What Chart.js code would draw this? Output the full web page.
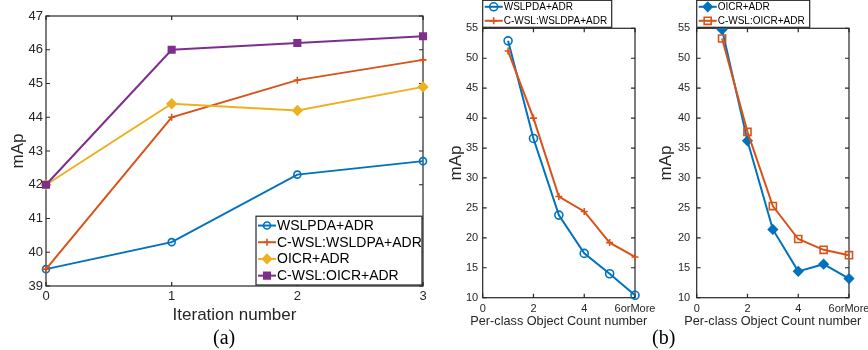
<!DOCTYPE html>
<html>
<head>
<meta charset="utf-8">
<script src="https://cdn.jsdelivr.net/npm/chart.js@4.4.0/dist/chart.umd.min.js"></script>
<style>
html, body { margin: 0; padding: 0; background: #fff; width: 868px; height: 350px; overflow: hidden; position: relative; }
.pane { position: absolute; top: 0; }
.cap { position: absolute; font-family: "Liberation Serif", "Times New Roman", serif; font-size: 20px; color: #000; line-height: 20px; }
</style>
</head>
<body>
<div class="pane" style="left:0;width:440px;height:330px"><canvas id="chart-a"></canvas></div>
<div class="pane" style="left:440px;width:240px;height:335px"><canvas id="chart-b1"></canvas></div>
<div class="pane" style="left:650px;width:235px;height:335px"><canvas id="chart-b2"></canvas></div>
<div class="cap" style="left:213px;top:327px">(a)</div>
<div class="cap" style="left:652px;top:327px">(b)</div>
<script>
// (a) mAp per iteration
const iterLabels = ['0', '1', '2', '3'];
const aWslpdaAdr = [39.5, 40.3, 42.3, 42.7];
const aCwslWslpdaAdr = [39.5, 44.0, 45.1, 45.7];
const aOicrAdr = [42.0, 44.4, 44.2, 44.9];
const aCwslOicrAdr = [42.0, 46.0, 46.2, 46.4];

// (b) mAp per per-class object count
const countX = [1, 2, 3, 4, 5, 6];
const countTicks = [0, 2, 4, 6];
const countTickLabels = ['0', '2', '4', '6orMore'];
const b1WslpdaAdr = [52.9, 36.6, 23.8, 17.4, 14.0, 10.4];
const b1CwslWslpdaAdr = [51.2, 40.0, 26.9, 24.4, 19.2, 16.8];
const b2OicrAdr = [54.8, 36.2, 21.4, 14.4, 15.6, 13.2];
const b2CwslOicrAdr = [53.3, 37.7, 25.3, 19.8, 18.0, 17.1];

const BLUE = '#0072BD', ORANGE = '#D95319', YELLOW = '#EDB120', PURPLE = '#7E2F8E';
const AXIS = '#262626';
const SANS = "'Liberation Sans', Arial, Helvetica, sans-serif";

Chart.defaults.font.family = SANS;
Chart.defaults.color = AXIS;

function series(label, values, color, shape, r, open, xs, order) {
    return {
        label,
        data: xs ? values.map((v, i) => ({ x: xs[i], y: v })) : values,
        borderColor: color,
        backgroundColor: color,
        borderWidth: 2,
        pointStyle: shape,
        pointRadius: r,
        pointHoverRadius: r,
        pointBorderWidth: 1.6,
        pointBorderColor: color,
        pointBackgroundColor: open ? 'rgba(255,255,255,0)' : color,
        tension: 0,
        clip: false,
        order
    };
}

function drawMarker(ctx, shape, x, y, r, stroke, fill) {
    ctx.save();
    ctx.strokeStyle = stroke;
    ctx.fillStyle = fill;
    ctx.lineWidth = 1.6;
    ctx.beginPath();
    if (shape === 'circle') {
        ctx.arc(x, y, r, 0, Math.PI * 2);
    } else if (shape === 'rect') {
        const s = r * Math.SQRT1_2;
        ctx.rect(x - s, y - s, 2 * s, 2 * s);
    } else if (shape === 'rectRot') {
        ctx.moveTo(x, y - r); ctx.lineTo(x + r, y); ctx.lineTo(x, y + r); ctx.lineTo(x - r, y); ctx.closePath();
    } else if (shape === 'cross') {
        ctx.moveTo(x - r, y); ctx.lineTo(x + r, y); ctx.moveTo(x, y - r); ctx.lineTo(x, y + r);
    }
    if (shape !== 'cross') ctx.fill();
    ctx.stroke();
    ctx.restore();
}

// matlab style box with inward ticks on all four sides
const frameBox = {
    id: 'frameBox',
    beforeDatasetsDraw(chart) {
        const { ctx, chartArea: a, scales } = chart;
        const x = scales.x, y = scales.y;
        ctx.save();
        ctx.strokeStyle = AXIS;
        ctx.lineWidth = 1.2;
        ctx.strokeRect(a.left, a.top, a.right - a.left, a.bottom - a.top);
        const len = 4;
        ctx.beginPath();
        x.ticks.forEach((t, i) => {
            const px = x.getPixelForTick(i);
            ctx.moveTo(px, a.bottom); ctx.lineTo(px, a.bottom - len);
            ctx.moveTo(px, a.top); ctx.lineTo(px, a.top + len);
        });
        y.ticks.forEach((t, i) => {
            const py = y.getPixelForTick(i);
            ctx.moveTo(a.left, py); ctx.lineTo(a.left + len, py);
            ctx.moveTo(a.right, py); ctx.lineTo(a.right - len, py);
        });
        ctx.stroke();
        ctx.restore();
    }
};

const boxLegend = {
    id: 'boxLegend',
    afterDraw(chart, args, opts) {
        const { ctx, chartArea: a } = chart;
        const sets = chart.data.datasets;
        const h = sets.length * opts.rowH + 2 * opts.pad;
        const left = opts.corner === 'br' ? a.right - 1 - opts.width : a.left;
        const top = opts.corner === 'br' ? a.bottom - 1 - h : a.top - 1 - h;
        ctx.save();
        ctx.fillStyle = '#fff';
        ctx.fillRect(left, top, opts.width, h);
        ctx.strokeStyle = AXIS;
        ctx.lineWidth = 1.2;
        ctx.strokeRect(left, top, opts.width, h);
        ctx.font = opts.fontSize + 'px ' + SANS;
        ctx.textBaseline = 'middle';
        ctx.textAlign = 'left';
        sets.forEach((ds, i) => {
            const cy = top + opts.pad + opts.rowH * (i + 0.5);
            ctx.strokeStyle = ds.borderColor;
            ctx.lineWidth = 2;
            ctx.beginPath();
            ctx.moveTo(left + 2, cy);
            ctx.lineTo(left + 20, cy);
            ctx.stroke();
            drawMarker(ctx, ds.pointStyle, left + 11, cy, ds.pointRadius, ds.borderColor, ds.pointBackgroundColor);
            ctx.fillStyle = '#000';
            ctx.fillText(ds.label, left + 21, cy + 0.5);
        });
        // wide x title that may run past the plot edges (chart.js would squeeze it)
        if (opts.xTitle) {
            ctx.font = opts.xTitleSize + 'px ' + SANS;
            ctx.fillStyle = AXIS;
            ctx.textAlign = 'center';
            ctx.fillText(opts.xTitle, (a.left + a.right) / 2, a.bottom + opts.xTitleGap);
        }
        ctx.restore();
    }
};

function axisTitle(text, size, padTop, padBottom) {
    return { display: true, text, font: { size }, color: AXIS, padding: { top: padTop, bottom: padBottom } };
}

// (a)
new Chart(document.getElementById('chart-a'), {
    type: 'line',
    data: {
        labels: iterLabels,
        datasets: [
            series('WSLPDA+ADR', aWslpdaAdr, BLUE, 'circle', 3.5, true, null, 4),
            series('C-WSL:WSLDPA+ADR', aCwslWslpdaAdr, ORANGE, 'cross', 3.5, true, null, 3),
            series('OICR+ADR', aOicrAdr, YELLOW, 'rectRot', 4.5, false, null, 2),
            series('C-WSL:OICR+ADR', aCwslOicrAdr, PURPLE, 'rect', 4.6, false, null, 1)
        ]
    },
    options: {
        responsive: true,
        maintainAspectRatio: false,
        animation: false,
        devicePixelRatio: 1,
        layout: { padding: { top: 16, right: 17, left: 0, bottom: 0 } },
        scales: {
            x: {
                type: 'category',
                offset: false,
                grid: { display: false, drawTicks: false },
                border: { display: false },
                ticks: { font: { size: 13 }, padding: 3, color: AXIS, maxRotation: 0 },
                title: axisTitle('Iteration number', 17, 0, 4),
                afterFit: s => { s.height = 44; }
            },
            y: {
                min: 39, max: 47,
                grid: { display: false, drawTicks: false },
                border: { display: false },
                ticks: { stepSize: 1, font: { size: 13 }, padding: 3, color: AXIS },
                title: axisTitle('mAp', 17, 8, 0),
                afterFit: s => { s.width = 46; }
            }
        },
        plugins: {
            legend: { display: false },
            tooltip: { enabled: false },
            boxLegend: { corner: 'br', width: 166, rowH: 16.7, pad: 1, fontSize: 14 }
        }
    },
    plugins: [frameBox, boxLegend]
});

function countChart(id, yWidth, yPad, rightPad, datasets, legendWidth) {
    return new Chart(document.getElementById(id), {
        type: 'line',
        data: { datasets },
        options: {
            responsive: true,
            maintainAspectRatio: false,
            animation: false,
            devicePixelRatio: 1,
            layout: { padding: { top: 28.3, right: rightPad, left: 0, bottom: 0 } },
            scales: {
                x: {
                    type: 'linear',
                    min: 0, max: 6,
                    grid: { display: false, drawTicks: false },
                    border: { display: false },
                    afterBuildTicks: s => { s.ticks = countTicks.map(v => ({ value: v })); },
                    ticks: {
                        font: { size: 11 }, padding: 5, color: AXIS, maxRotation: 0, autoSkip: false,
                        callback: (v, i) => countTickLabels[i]
                    },
                    afterFit: s => { s.height = 37.3; }
                },
                y: {
                    min: 10, max: 55,
                    grid: { display: false, drawTicks: false },
                    border: { display: false },
                    ticks: { stepSize: 5, font: { size: 11 }, padding: yPad, color: AXIS },
                    title: axisTitle('mAp', 17, 6, 0),
                    afterFit: s => { s.width = yWidth; }
                }
            },
            plugins: {
                legend: { display: false },
                tooltip: { enabled: false },
                boxLegend: {
                    corner: 'tl', width: legendWidth, rowH: 14, pad: -0.5, fontSize: 10,
                    xTitle: 'Per-class Object Count number', xTitleSize: 12.7, xTitleGap: 23.5
                }
            }
        },
        plugins: [frameBox, boxLegend]
    });
}

countChart('chart-b1', 42.7, 4.5, 45, [
    series('WSLPDA+ADR', b1WslpdaAdr, BLUE, 'circle', 4, true, countX, 2),
    series('C-WSL:WSLDPA+ADR', b1CwslWslpdaAdr, ORANGE, 'cross', 3.5, true, countX, 1)
], 129);

countChart('chart-b2', 46.7, 6.5, 36, [
    series('OICR+ADR', b2OicrAdr, BLUE, 'rectRot', 4.5, false, countX, 2),
    series('C-WSL:OICR+ADR', b2CwslOicrAdr, ORANGE, 'rect', 5, true, countX, 1)
], 113);
</script>
</body>
</html>
